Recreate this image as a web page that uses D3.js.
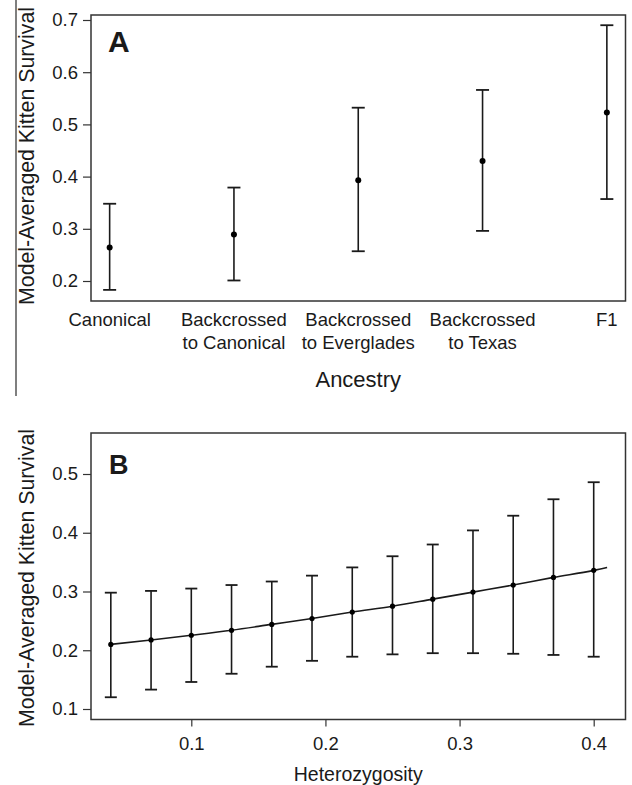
<!DOCTYPE html>
<html lang="en">
  <head>
    <meta charset='utf-8'>
    <script type="text/javascript" src="https://cdn.jsdelivr.net/npm/d3@7"></script>
    <title>Kitten survival</title>
    <style>
      body{margin:0;background:#fff;}
      text{font-family:"Liberation Sans",Arial,sans-serif;fill:#1a1a1a;}
    </style>
  </head>
  <body>
    <div id="mainDiv"></div>
    <script type="text/javascript">
      //Panel A data: ancestry groups
      var ancestry=[["Canonical"],["Backcrossed","to Canonical"],["Backcrossed","to Everglades"],["Backcrossed","to Texas"],["F1"]];
      var ancestryMean=[0.264,0.289,0.393,0.430,0.523];
      var ancestryLow=[0.183,0.201,0.257,0.296,0.357];
      var ancestryHigh=[0.348,0.379,0.532,0.566,0.690];
      var ticksA=[0.2,0.3,0.4,0.5,0.6,0.7];
      //Panel B data: heterozygosity
      var het=[0.04,0.07,0.10,0.13,0.16,0.19,0.22,0.25,0.28,0.31,0.34,0.37,0.40];
      var hetMean=[0.210,0.2175,0.2255,0.234,0.244,0.254,0.265,0.275,0.287,0.299,0.311,0.324,0.336];
      var hetLow=[0.120,0.133,0.146,0.160,0.172,0.182,0.189,0.193,0.195,0.195,0.194,0.192,0.189];
      var hetHigh=[0.298,0.301,0.305,0.311,0.317,0.327,0.341,0.360,0.380,0.404,0.429,0.457,0.486];
      var fitX=[0.04,0.07,0.10,0.13,0.16,0.19,0.22,0.25,0.28,0.31,0.34,0.37,0.40,0.41];
      var fitY=[0.210,0.2175,0.2255,0.234,0.244,0.254,0.265,0.275,0.287,0.299,0.311,0.324,0.336,0.341];
      var ticksBy=[0.1,0.2,0.3,0.4,0.5];
      var ticksBx=[0.1,0.2,0.3,0.4];
      var yTitle="Model-Averaged Kitten Survival";

      var w=632, h=785;
      var ink="#1a1a1a";
      var svg=d3.select("#mainDiv").append("svg")
        .attr("width",w).attr("height",h);

      //error bar helper
      function errorBars(g,xs,lo,hi,mid,cap,r){
        var bars=g.selectAll(".eb").data(xs).enter().append("g").attr("class","eb");
        bars.append("line")
          .attr("x1",function(d){return d;}).attr("x2",function(d){return d;})
          .attr("y1",function(d,i){return hi[i];}).attr("y2",function(d,i){return lo[i];})
          .attr("stroke",ink).attr("stroke-width",1.6);
        [hi,lo].forEach(function(arr){
          bars.append("line")
            .attr("x1",function(d){return d-cap/2;}).attr("x2",function(d){return d+cap/2;})
            .attr("y1",function(d,i){return arr[i];}).attr("y2",function(d,i){return arr[i];})
            .attr("stroke",ink).attr("stroke-width",1.8);
        });
        bars.append("circle")
          .attr("cx",function(d){return d;}).attr("cy",function(d,i){return mid[i];})
          .attr("r",r).attr("fill","#000");
      }

      //==== Panel A ====
      var boxA={l:91,r:625.5,t:15,b:301};
      var xA=d3.scalePoint().domain(d3.range(ancestry.length)).range([boxA.l,boxA.r]).padding(0.15);
      var yA=d3.scaleLinear().domain([0.2,0.7]).range([281,20]);
      var gA=svg.append("g");
      gA.append("rect").attr("x",boxA.l).attr("y",boxA.t)
        .attr("width",boxA.r-boxA.l).attr("height",boxA.b-boxA.t)
        .attr("fill","none").attr("stroke","#333").attr("stroke-width",1.5);
      var axA=gA.append("g").attr("transform","translate("+boxA.l+",0)")
        .call(d3.axisLeft(yA).tickValues(ticksA).tickSize(8).tickPadding(5).tickFormat(d3.format(".1f")));
      axA.select(".domain").remove();
      axA.selectAll("line").attr("stroke","#333").attr("stroke-width",1.2);
      axA.selectAll("text").style("font-size","18.5px").attr("fill",ink);
      //category labels
      ancestry.forEach(function(lines,i){
        var t=gA.append("text").attr("text-anchor","middle").style("font-size","18.5px");
        lines.forEach(function(s,k){
          t.append("tspan").attr("x",xA(i)).attr("y",326+k*22.5).text(s);
        });
      });
      gA.append("text").attr("x",(boxA.l+boxA.r)/2).attr("y",386.5)
        .attr("text-anchor","middle").style("font-size","22px").text("Ancestry");
      gA.append("text").attr("x",108).attr("y",51.5)
        .style("font-size","30px").style("font-weight","bold").text("A");
      errorBars(gA,
        ancestry.map(function(d,i){return xA(i);}),
        ancestryLow.map(yA),ancestryHigh.map(yA),ancestryMean.map(yA),13,3);
      //rotated title, clipped by the left rule
      svg.append("clipPath").attr("id","clipA").append("rect")
        .attr("x",16).attr("y",0).attr("width",60).attr("height",400);
      gA.append("g").attr("clip-path","url(#clipA)")
        .append("text")
        .attr("transform","translate(33.5,156) rotate(-90)")
        .attr("text-anchor","middle").style("font-size","21.3px").text(yTitle);
      svg.append("line").attr("x1",16).attr("x2",16).attr("y1",0).attr("y2",396)
        .attr("stroke","#555").attr("stroke-width",1.5);

      //==== Panel B ====
      var boxB={l:91,r:625.5,t:433,b:719.5};
      var xB=d3.scaleLinear().domain([0.1,0.4]).range([191.3,593.7]);
      var yB=d3.scaleLinear().domain([0.1,0.5]).range([709,474]);
      var gB=svg.append("g");
      gB.append("rect").attr("x",boxB.l).attr("y",boxB.t)
        .attr("width",boxB.r-boxB.l).attr("height",boxB.b-boxB.t)
        .attr("fill","none").attr("stroke","#333").attr("stroke-width",1.5);
      var axBy=gB.append("g").attr("transform","translate("+boxB.l+",0)")
        .call(d3.axisLeft(yB).tickValues(ticksBy).tickSize(8).tickPadding(5).tickFormat(d3.format(".1f")));
      var axBx=gB.append("g").attr("transform","translate(0,"+boxB.b+")")
        .call(d3.axisBottom(xB).tickValues(ticksBx).tickSize(7).tickPadding(10.5).tickFormat(d3.format(".1f")));
      [axBy,axBx].forEach(function(ax){
        ax.select(".domain").remove();
        ax.selectAll("line").attr("stroke","#333").attr("stroke-width",1.2);
        ax.selectAll("text").style("font-size","18.5px").attr("fill",ink);
      });
      gB.append("text").attr("x",(boxB.l+boxB.r)/2).attr("y",781)
        .attr("text-anchor","middle").style("font-size","19.5px").text("Heterozygosity");
      gB.append("text").attr("x",109).attr("y",473.5)
        .style("font-size","27px").style("font-weight","bold").text("B");
      gB.append("text").attr("transform","translate(33.5,578) rotate(-90)")
        .attr("text-anchor","middle").style("font-size","21.3px").text(yTitle);
      //fitted line
      gB.append("path")
        .datum(fitX.map(function(d,i){return [xB(d),yB(fitY[i])];}))
        .attr("d",d3.line().curve(d3.curveMonotoneX))
        .attr("fill","none").attr("stroke",ink).attr("stroke-width",1.6);
      errorBars(gB,het.map(xB),hetLow.map(yB),hetHigh.map(yB),hetMean.map(yB),12,2.6);
    </script>
  </body>
</html>
